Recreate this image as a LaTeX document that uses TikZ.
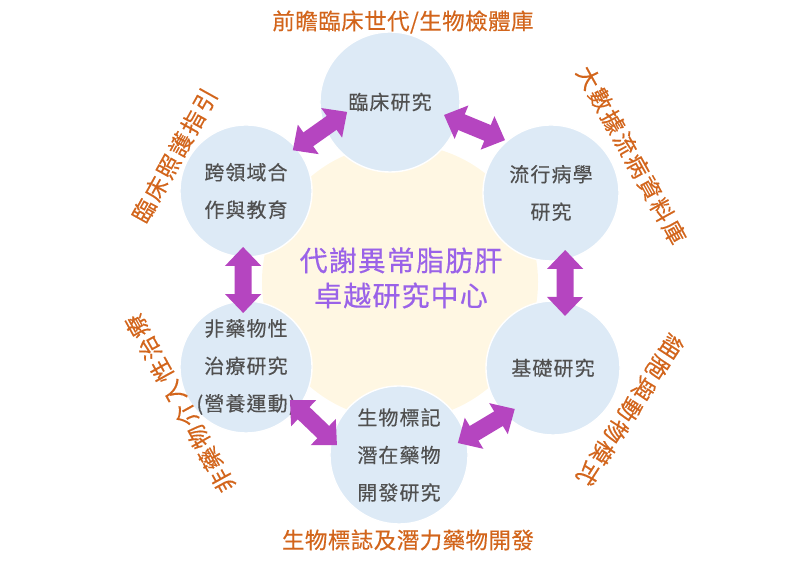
\documentclass[tikz,border=0pt]{standalone}
\usepackage{fontspec}
\usetikzlibrary{arrows.meta,calc}
\newfontfamily\cjkbub[LetterSpace=6,FakeBold=0.4]{Noto Sans CJK TC}
\newfontfamily\cjkhub[LetterSpace=4,FakeBold=0.4]{Noto Sans CJK TC}
\newfontfamily\cjktag[LetterSpace=2,FakeBold=0.3]{Noto Sans CJK TC}
\newfontfamily\cjkside[LetterSpace=10,FakeBold=0.3]{Noto Sans CJK TC}
\definecolor{bubblue}{HTML}{DDEAF6}
\definecolor{hubcream}{HTML}{FFF7E3}
\definecolor{inkgray}{HTML}{505050}
\definecolor{hubpurple}{HTML}{9A62E8}
\definecolor{tagorange}{HTML}{D2651C}
\definecolor{linkpurple}{HTML}{B545C0}
\tikzset{bubble/.style={circle,fill=bubblue,draw=white,line width=1.2pt,minimum size=#1,inner sep=0pt,outer sep=0pt},
bubtext/.style={align=center,text=inkgray,inner sep=0pt,font=\cjkbub\fontsize{17pt}{32pt}\selectfont},
hubtext/.style={align=center,text=hubpurple,inner sep=0pt,font=\cjkhub\fontsize{23.9pt}{30pt}\selectfont},
orangetag/.style={text=tagorange,inner sep=0pt,font=\cjktag\fontsize{19.2pt}{22pt}\selectfont},
sidetag/.style={orangetag,font=\cjkside\fontsize{19.6pt}{22pt}\selectfont},
linkarrow/.style={{Triangle[width=29.9pt,length=16.2pt]}-{Triangle[width=29.9pt,length=16.2pt]},draw=linkpurple,line width=14.5pt}}

\begin{document}
\begin{tikzpicture}[x=0.03cm,y=0.03cm]
\useasboundingbox (0,0) rectangle (800,569);
\node[circle,fill=hubcream,minimum size=8.28cm,inner sep=0pt] (hub) at (400,287) {};
\node[bubble=4.2cm] (top) at (390,467) {};
\node[bubble=3.96cm] (ul) at (246,378) {};
\node[bubble=4.08cm] (ur) at (551,376) {};
\node[bubble=3.96cm] (ll) at (246,202) {};
\node[bubble=4.02cm] (lr) at (553,201) {};
\node[bubble=4.14cm] (bot) at (399,114) {};
\node[bubtext] (top-t) at (top) {臨床研究};
\node[bubtext] (ul-t) at (ul) {跨領域合\\作與教育};
\node[bubtext] (ur-t) at (ur) {流行病學\\研究};
\node[bubtext] (ll-t) at (ll) {非藥物性\\治療研究\\(營養運動)};
\node[bubtext] (lr-t) at (lr) {基礎研究};
\node[bubtext] (bot-t) at (bot) {生物標記\\潛在藥物\\開發研究};
\node[hubtext] (hub-t) at (401,291) {代謝異常脂肪肝\\卓越研究中心};
\node[orangetag] (top-tag) at (403,547) {前瞻臨床世代/生物檢體庫};
\node[orangetag] (bot-tag) at (408,29) {生物標誌及潛力藥物開發};
\node[sidetag,rotate=61] (ul-tag) at (174.5,413.5) {臨床照護指引};
\node[sidetag,rotate=-61] (ur-tag) at (631.5,414) {大數據流病資料庫};
\node[sidetag,rotate=119] (ll-tag) at (180,165.5) {非藥物介入性治療};
\node[sidetag,rotate=-123] (lr-tag) at (630,159) {細胞與動物模式};
\draw[linkarrow] ($(ul)+(41:62)$) -- ($(top)+(193:44)$);
\draw[linkarrow] ($(top)+(-13.5:55.5)$) -- ($(ur)+(131:70)$);
\draw[linkarrow] ($(ul)+(-93:56)$) -- ($(ll)+(93:54)$);
\draw[linkarrow] ($(ur)+(-76:58.7)$) -- ($(lr)+(77:53.4)$);
\draw[linkarrow] ($(ll)+(-37:55)$) -- ($(bot)+(171:62.8)$);
\draw[linkarrow] ($(bot)+(11.5:60)$) -- ($(lr)+(227:56)$);
\end{tikzpicture}
\end{document}
